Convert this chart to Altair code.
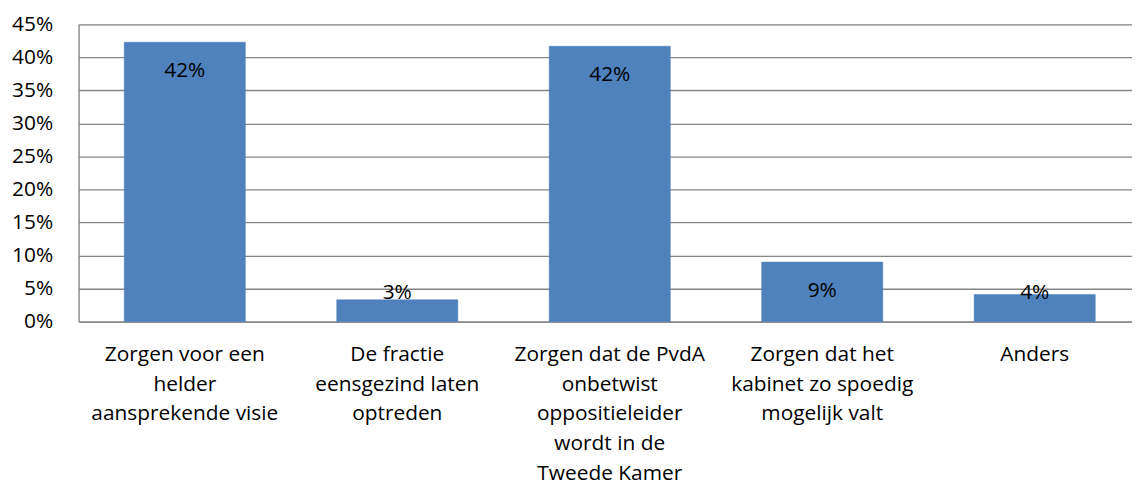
import altair as alt
import pandas as pd

categories = [
    "Zorgen voor een|helder|aansprekende visie",
    "De fractie|eensgezind laten|optreden",
    "Zorgen dat de PvdA|onbetwist|oppositieleider|wordt in de|Tweede Kamer",
    "Zorgen dat het|kabinet zo spoedig|mogelijk valt",
    "Anders",
]
values = [0.423, 0.033, 0.417, 0.090, 0.041]
labels = ["42%", "3%", "42%", "9%", "4%"]
ticks = [0.0, 0.05, 0.1, 0.15, 0.2, 0.25, 0.3, 0.35, 0.4, 0.45]

df = pd.DataFrame({"cat": categories, "v": values, "lab": labels})

FONT = "Open Sans"
FS = 21

x_axis = alt.Axis(
    labelAngle=0,
    labelExpr="split(datum.label, '|')",
    labelFont=FONT,
    labelFontSize=FS,
    labelColor="#000000",
    labelLineHeight=30,
    labelPadding=22,
    labelBaseline="top",
    ticks=False,
    domainColor="#868686",
    domainWidth=1.3,
    labelLimit=300,
    labelOverlap=False,
)
y_axis = alt.Axis(
    values=ticks,
    format=".0%",
    labelFont=FONT,
    labelFontSize=FS,
    labelColor="#000000",
    labelPadding=26,
    labelOverlap=False,
    labelFlush=False,
    ticks=False,
    domain=True,
    domainColor="#868686",
    domainWidth=1.3,
    gridColor="#868686",
    gridWidth=1.3,
    gridOpacity=1,
)
x_scale = alt.Scale(paddingInner=0.43, paddingOuter=0.215)
y_scale = alt.Scale(domain=[0, 0.45], nice=False)

bars = alt.Chart(df).mark_bar(color="#4F81BD", stroke="#4A7EBB", strokeWidth=0.5).encode(
    x=alt.X("cat:N", sort=None, title=None, scale=x_scale, axis=x_axis),
    y=alt.Y("v:Q", title=None, scale=y_scale, axis=y_axis),
)

text = alt.Chart(df).transform_calculate(
    lp="max(datum.v - 0.0437, 0.0437)"
).mark_text(font=FONT, fontSize=FS, color="#000000", baseline="middle").encode(
    x=alt.X("cat:N", sort=None, title=None, scale=x_scale, axis=x_axis),
    y=alt.Y("lp:Q", title=None, scale=y_scale, axis=y_axis),
    text="lab:N",
)

chart = (
    alt.layer(bars, text)
    .properties(
        width=1069,
        height=299,
        autosize=alt.AutoSizeParams(type="none"),
        padding={"left": 71, "top": 15, "right": -9, "bottom": 170},
    )
    .configure_view(stroke=None)
    .configure(background="#ffffff")
)

chart.save("out.html", embed_options={"renderer": "svg", "actions": False})
